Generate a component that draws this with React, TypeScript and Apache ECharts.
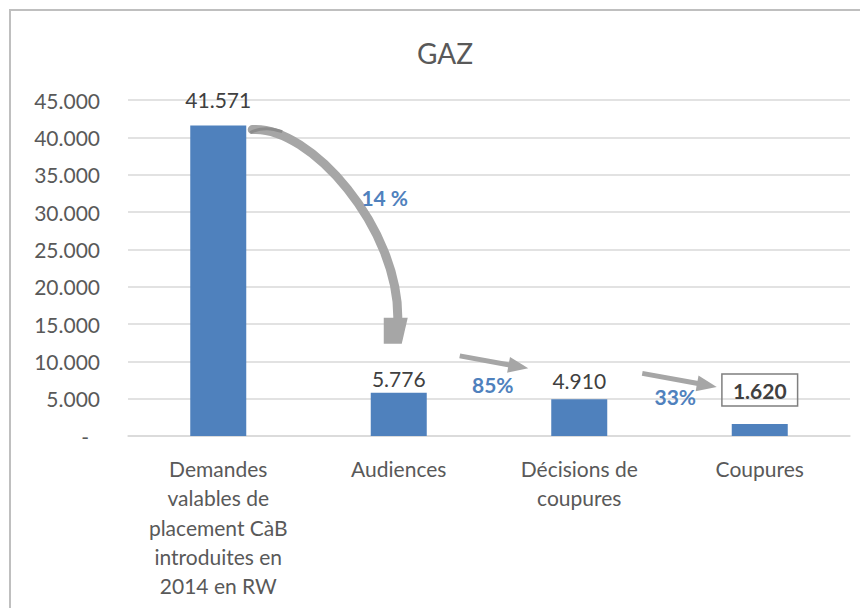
import React, { useEffect, useRef } from 'react';
import * as echarts from 'echarts';

const title = 'GAZ';
const categories = [
  'Demandes\nvalables de\nplacement CàB\nintroduites en\n2014 en RW',
  'Audiences',
  'Décisions de\ncoupures',
  'Coupures',
];
const values = [41571, 5776, 4910, 1620];
const ratioLabels = ['14 %', '85%', '33%'];
const yMax = 45000;
const yStep = 5000;

const FONT = 'Lato, "Open Sans", sans-serif';
const TXT = '#595959';
const GREY_ARROW = '#a6a6a6';
const BLUE = '#4f81bd';

function fmt(v: number): string {
  return String(Math.round(v)).replace(/\B(?=(\d{3})+(?!\d))/g, '.');
}

function arrow(x1: number, y1: number, x2: number, y2: number, w: number, hl: number, hw: number) {
  const dx = x2 - x1, dy = y2 - y1;
  const L = Math.sqrt(dx * dx + dy * dy);
  const ux = dx / L, uy = dy / L;
  const px = -uy, py = ux;
  const bx = x2 - ux * hl, by = y2 - uy * hl;
  return [
    { type: 'line', silent: true, shape: { x1, y1, x2: bx + ux * 1, y2: by + uy * 1 }, style: { stroke: GREY_ARROW, lineWidth: w } },
    {
      type: 'polygon', silent: true,
      shape: { points: [[x2, y2], [bx + px * hw, by + py * hw], [bx - px * hw, by - py * hw]] },
      style: { fill: GREY_ARROW },
    },
  ];
}

export default function App() {
  const ref = useRef<HTMLDivElement>(null);
  useEffect(() => {
    if (!ref.current) return;
    const chart = echarts.init(ref.current, null, { renderer: 'svg' });
    const labelDist = [16, 4, 8, 18];
    chart.setOption({
      animation: false,
      title: {
        text: title,
        left: 404,
        top: 26,
        textStyle: { fontFamily: FONT, fontSize: 28, fontWeight: 'normal', color: TXT },
      },
      grid: { left: 120, right: 18, top: 92, bottom: 172, containLabel: false },
      xAxis: {
        type: 'category',
        data: categories,
        axisLine: { show: true, lineStyle: { color: '#d9d9d9', width: 1.5 } },
        axisTick: { show: false },
        axisLabel: {
          interval: 0,
          margin: 18,
          fontFamily: FONT,
          fontSize: 21,
          lineHeight: 29.3,
          color: TXT,
          align: 'center',
          verticalAlign: 'top',
        },
      },
      yAxis: {
        type: 'value',
        min: 0,
        max: yMax,
        interval: yStep,
        axisLine: { show: false },
        axisTick: { show: false },
        splitLine: { lineStyle: { color: '#d9d9d9', width: 1.5 } },
        axisLabel: {
          margin: 28,
          fontFamily: FONT,
          fontSize: 21,
          color: TXT,
          formatter: (v: number) => (v === 0 ? '{d|-}' : fmt(v)),
          rich: { d: { fontFamily: FONT, fontSize: 21, color: TXT, padding: [0, 11, 0, 0] } },
        },
      },
      series: [
        {
          type: 'bar',
          barWidth: 56,
          itemStyle: { color: BLUE },
          data: values.map((v, i) => {
            const base: any = {
              value: v,
              label: {
                show: true,
                position: 'top',
                distance: labelDist[i],
                formatter: (p: any) => fmt(p.value),
                fontFamily: FONT,
                fontSize: 21,
                color: '#404040',
              },
            };
            if (i === values.length - 1) {
              base.label.fontWeight = 'bold';
              base.label.borderColor = '#7f7f7f';
              base.label.borderWidth = 1.5;
              base.label.padding = [6, 11, 5, 11];
            }
            return base;
          }),
        },
      ],
    });

    const pt = (i: number) => chart.convertToPixel({ seriesIndex: 0 }, [i, values[i]]) as number[];
    const p0 = pt(0), p1 = pt(1), p2 = pt(2), p3 = pt(3);

    // curved arrow from bar 0 to bar 1
    const sx = p0[0] + 34, sy = p0[1] + 4;
    const ex = p1[0] - 1, ey = p1[1] - 73;
    const tipX = p1[0] - 6, tipY = p1[1] - 49;
    const graphics: any[] = [
      {
        type: 'rect', silent: true, z: -10,
        shape: { x: 2, y: 2, width: 1000, height: 800 },
        style: { fill: 'none', stroke: '#bfbfbf', lineWidth: 2 },
      },
      {
        type: 'bezierCurve', silent: true,
        shape: { x1: sx, y1: sy, cpx1: sx + 58, cpy1: sy - 4, cpx2: ex + 2, cpy2: sy + 99, x2: ex, y2: ey },
        style: { stroke: GREY_ARROW, lineWidth: 9, fill: 'none', lineCap: 'round' },
      },
      {
        type: 'bezierCurve', silent: true,
        shape: { x1: sx - 2, y1: sy + 3, cpx1: sx + 10, cpy1: sy - 3, cpx2: sx + 20, cpy2: sy - 1, x2: sx + 30, y2: sy + 2 },
        style: { stroke: '#8c8c8c', lineWidth: 3, fill: 'none' },
      },
      {
        type: 'polygon', silent: true,
        shape: { points: [[ex - 14, ey - 2], [ex + 10, ey - 2], [tipX + 9, tipY], [tipX - 9, tipY]] },
        style: { fill: GREY_ARROW },
      },
      ...arrow(p1[0] + 61, p1[1] - 37, p2[0] - 51, p2[1] - 31, 5, 20, 8),
      ...arrow(p2[0] + 63, p2[1] - 26, p3[0] - 43, p3[1] - 37, 5, 20, 8),
      {
        type: 'text', silent: true,
        x: p1[0] - 14, y: p0[1] + 72,
        style: { text: ratioLabels[0], fontFamily: FONT, fontSize: 21, fontWeight: 'bold', fill: BLUE, align: 'center', verticalAlign: 'middle' },
      },
      {
        type: 'text', silent: true,
        x: p1[0] + 94, y: p2[1] - 15,
        style: { text: ratioLabels[1], fontFamily: FONT, fontSize: 21, fontWeight: 'bold', fill: BLUE, align: 'center', verticalAlign: 'middle' },
      },
      {
        type: 'text', silent: true,
        x: p2[0] + 96, y: p3[1] - 27,
        style: { text: ratioLabels[2], fontFamily: FONT, fontSize: 21, fontWeight: 'bold', fill: BLUE, align: 'center', verticalAlign: 'middle' },
      },
    ];
    chart.setOption({ graphic: graphics });
    return () => chart.dispose();
  }, []);
  return <div ref={ref} style={{ width: 860, height: 600 }} />;
}
